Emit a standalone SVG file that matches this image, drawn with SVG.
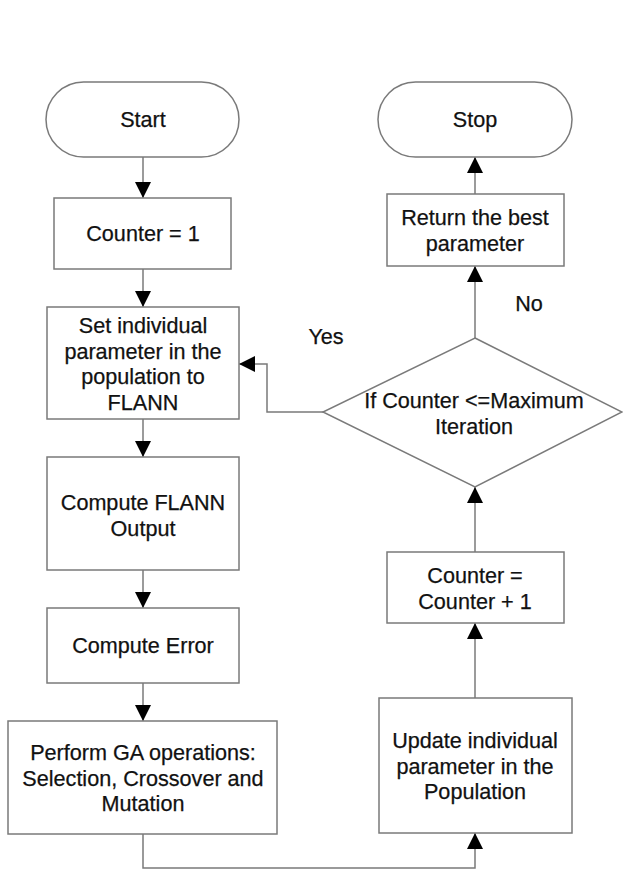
<svg xmlns="http://www.w3.org/2000/svg" width="623" height="869" viewBox="0 0 623 869">
<style>
.n{fill:#fff;stroke:#7a7a7a;stroke-width:1.5}
.c{fill:none;stroke:#7a7a7a;stroke-width:1.5;marker-end:url(#ah)}
text{font-family:"Liberation Sans",Arial,sans-serif;font-size:21.6px;fill:#111;stroke:#111;stroke-width:0.25;text-anchor:middle}
</style>
<defs>
<marker id="ah" markerUnits="userSpaceOnUse" markerWidth="16" markerHeight="16" viewBox="0 0 15 15" refX="15" refY="7.5" orient="auto">
<path d="M0,0 L15,7.5 L0,15 z" fill="#000"/>
</marker>
</defs>
<rect width="623" height="869" fill="#fff"/>
<g id="connectors">
<path class="c" d="M143,157 V198"/>
<path class="c" d="M143,269 V307"/>
<path class="c" d="M143,419 V457"/>
<path class="c" d="M143,570 V608"/>
<path class="c" d="M143,683 V721"/>
<path class="c" d="M143,834 V868 H475 V833"/>
<path class="c" d="M475,698 V623"/>
<path class="c" d="M475,552 V487"/>
<path class="c" d="M475,338 V266"/>
<path class="c" d="M475,194 V157"/>
<path class="c" d="M323,412 H267 V364 H239"/>
<text x="326" y="343.5">Yes</text>
<text x="529" y="310.5">No</text>
</g>
<g id="start">
<rect class="n" x="46" y="82" width="193" height="75" rx="37.5"/>
<text x="143" y="127">Start</text>
</g>
<g id="stop">
<rect class="n" x="378" y="82" width="194" height="75" rx="37.5"/>
<text x="475" y="127">Stop</text>
</g>
<g id="counter1">
<rect class="n" x="54" y="198" width="177" height="71"/>
<text x="143" y="241">Counter = 1</text>
</g>
<g id="set">
<rect class="n" x="47" y="307" width="192" height="112"/>
<text x="143" y="333">Set individual</text>
<text x="143" y="358.5">parameter in the</text>
<text x="143" y="384">population to</text>
<text x="143" y="409.5">FLANN</text>
</g>
<g id="computeflann">
<rect class="n" x="47" y="457" width="192" height="113"/>
<text x="143" y="510">Compute FLANN</text>
<text x="143" y="535.5">Output</text>
</g>
<g id="computeerror">
<rect class="n" x="47" y="608" width="192" height="75"/>
<text x="143" y="653">Compute Error</text>
</g>
<g id="perform">
<rect class="n" x="8" y="721" width="269" height="113"/>
<text x="143" y="760">Perform GA operations:</text>
<text x="143" y="785.5">Selection, Crossover and</text>
<text x="143" y="811">Mutation</text>
</g>
<g id="update">
<rect class="n" x="379" y="698" width="193" height="135"/>
<text x="475" y="748">Update individual</text>
<text x="475" y="773.5">parameter in the</text>
<text x="475" y="799">Population</text>
</g>
<g id="counterplus">
<rect class="n" x="387" y="552" width="177" height="71"/>
<text x="475" y="583">Counter =</text>
<text x="475" y="608.5">Counter + 1</text>
</g>
<g id="decision">
<polygon class="n" points="475,338 622,412 475,487 323,412"/>
<text x="474" y="408">If Counter &lt;=Maximum</text>
<text x="474" y="433.5">Iteration</text>
</g>
<g id="return">
<rect class="n" x="387" y="194" width="177" height="72"/>
<text x="475" y="225">Return the best</text>
<text x="475" y="250.5">parameter</text>
</g>
</svg>
